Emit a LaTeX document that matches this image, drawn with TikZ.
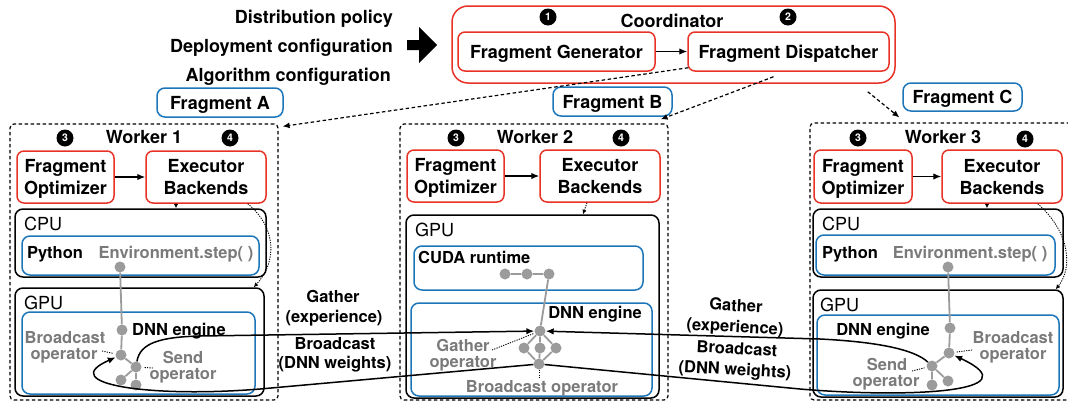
\documentclass[tikz,border=0pt]{standalone}
\usepackage{fontspec}
\setmainfont{TeX Gyre Heros}
\usetikzlibrary{arrows.meta,calc}
\definecolor{myred}{RGB}{232,50,38}
\definecolor{myblue}{RGB}{28,118,185}
\definecolor{dotgray}{RGB}{155,155,155}
\definecolor{txtgray}{RGB}{122,122,122}
\newcommand{\fbig}{\fontsize{18}{22}\selectfont\bfseries}
\newcommand{\fsmall}{\fontsize{16.5}{18}\selectfont\bfseries}
\newcommand{\freg}{\fontsize{18}{22}\selectfont}
\newcommand{\bxn}[7]{\node[#1, minimum width={#5-#3}, minimum height={#6-#4}] (#2) at ({(#3+#5)/2},{(#4+#6)/2}) {#7};}
\begin{document}
\begin{tikzpicture}[x=1pt,y=-1pt,
  box/.style={draw, line width=1.5pt, rounded corners=7pt, inner sep=0pt, text depth=0pt},
  redbox/.style={box, draw=myred},
  bluebox/.style={box, draw=myblue, rounded corners=8pt},
  blackbox/.style={box, draw=black, rounded corners=8pt},
  wbox/.style={draw, line width=1.2pt, dash pattern=on 3.5pt off 2.5pt, rounded corners=4pt, inner sep=0pt},
  txt/.style={inner sep=0pt, text height=12.5pt, text depth=0pt},
  gtxt/.style={txt, font=\fsmall, text=txtgray},
  dotn/.style={circle, fill=dotgray, minimum size=11pt, inner sep=0pt},
  num/.style={circle, fill=black, text=white, minimum size=17pt, inner sep=0pt, font=\fontsize{10.5}{11}\selectfont\bfseries},
  conn/.style={line width=1.5pt, -{Latex[length=8pt,width=6.5pt]}},
  dashconn/.style={line width=1.2pt, dash pattern=on 3.5pt off 2.5pt, -{Latex[length=7pt,width=6pt]}},
  grayline/.style={dotgray, line width=1.8pt},
  dotline/.style={line width=0.9pt, dash pattern=on 1.2pt off 1.2pt},
  tinyarrow/.style={dotline, -{Latex[length=4.5pt,width=4.5pt]}}
]
\useasboundingbox (0,0) rectangle (1068,402);

% ---------- left inputs ----------
\node[txt, font=\fbig, anchor=east] (in1) at (393,17) {Distribution policy};
\node[txt, font=\fbig, anchor=east] (in2) at (393,46) {Deployment configuration};
\node[txt, font=\fbig, anchor=east] (in3) at (391,75) {Algorithm configuration};
\fill (407,40) -- (419,40) -- (419,27) -- (437,45) -- (419,63) -- (419,50) -- (407,50) -- cycle;

% ---------- coordinator ----------
\bxn{redbox, rounded corners=16pt}{coord}{452}{6}{895}{83}{}
\node[txt, font=\fbig] (coordt) at (672,21) {Coordinator};
\node[num] (n1) at (548,17) {1};
\node[num] (n2) at (788,17) {2};
\bxn{redbox, font=\fbig}{fg}{458}{32}{655}{71}{Fragment Generator}
\bxn{redbox, font=\fbig}{fd}{688}{32}{889}{71}{Fragment Dispatcher}
\draw[conn, line width=1.3pt] (fg) -- (fd);

% ---------- fragments ----------
\bxn{bluebox, font=\fbig}{fa}{157}{88}{283}{117}{Fragment A}
\bxn{bluebox, font=\fbig}{fb}{553}{87}{672}{116}{Fragment B}
\bxn{bluebox, font=\fbig}{fc}{903}{83}{1022}{111}{Fragment C}

% ---------- workers ----------
\bxn{wbox}{w1}{10}{124}{278}{400}{}
\bxn{wbox}{w2}{400}{124}{668}{400}{}
\bxn{wbox}{w3}{810}{123}{1074}{400}{}

% dispatch arrows
\draw[dashconn] ($(fd.south west)+(1,-4)$) -- ($(w1.north east)+(4,3)$);
\draw[dashconn] ($(fd.south)+(-15,5)$) -- ($(w2.north east)+(-8,-4)$);
\draw[dashconn] ($(coord.south east)+(-28,8)$) -- ($(w3.north west)+(90,-5)$);

% ===== Worker 1 =====
\node[txt, font=\fbig] (w1t) at (144,137) {Worker 1};
\node[num] (w1n3) at (65,138) {3};
\node[num] (w1n4) at (230,138) {4};
\bxn{redbox, font=\fbig, align=center}{fo1}{17}{151}{114}{203}{Fragment\\Optimizer}
\bxn{redbox, font=\fbig, align=center}{eb1}{146}{151}{266}{203}{Executor\\Backends}
\draw[conn, line width=1.3pt] (fo1) -- (eb1);
\bxn{blackbox}{cpu1}{15}{209}{266}{277}{}
\node[txt, font=\freg, anchor=west] (cpu1t) at (24,224) {CPU};
\bxn{bluebox}{py1}{22}{236}{259}{275}{}
\node[txt, font=\fsmall] (py1t) at (55,252) {Python};
\node[gtxt] (env1t) at (176,252) {Environment.step( )};
\bxn{blackbox}{gpu1}{15}{288}{264}{396}{}
\node[txt, font=\freg, anchor=west] (gpu1t) at (24,303) {GPU};
\bxn{bluebox}{dnn1}{22}{312}{255}{394}{}
\node[txt, font=\fsmall] (dnn1t) at (179,329) {DNN engine};
\node[gtxt] (bo1a) at (65,337) {Broadcast};
\node[gtxt] (bo1b) at (64,353) {operator};
\node[gtxt] (so1a) at (183,357) {Send};
\node[gtxt] (so1b) at (183,373) {operator};
\node[dotn] (e1) at (120,267) {};
\node[dotn] (d1) at (122,330) {};
\node[dotn] (b1) at (121,355) {};
\node[dotn] (s1) at (136,367) {};
\node[dotn] (x1) at (121,380) {};
\node[dotn] (y1) at (136,385) {};
\draw[grayline] (e1) -- (d1) -- (b1) -- (s1) -- (x1);
\draw[grayline] (s1) -- (y1);
\coordinate (bo1r) at (102,351);
\draw[dotline, shorten >=2pt] (bo1r) -- (b1);
\coordinate (so1l) at (153,368);
\draw[dotline, shorten >=2pt] (so1l) -- (s1);
\coordinate (ex1) at ($(eb1.south)+(-30,0)$);
\draw[tinyarrow] (ex1) -- (ex1 |- cpu1.north);
\draw[tinyarrow] ($(eb1.south east)+(-19,0)$) .. controls (277,228) and (277,262) .. ($(gpu1.north east)+(-11,0)$);

% ===== Worker 2 =====
\node[txt, font=\fbig] (w2t) at (535,137) {Worker 2};
\node[num] (w2n3) at (456,138) {3};
\node[num] (w2n4) at (621,138) {4};
\bxn{redbox, font=\fbig, align=center}{fo2}{407}{150}{504}{202}{Fragment\\Optimizer}
\bxn{redbox, font=\fbig, align=center}{eb2}{540}{150}{660}{202}{Executor\\Backends}
\draw[conn, line width=1.3pt] (fo2) -- (eb2);
\bxn{blackbox}{gpu2}{406}{215}{659}{398}{}
\node[txt, font=\freg, anchor=west] (gpu2t) at (415,230) {GPU};
\bxn{bluebox}{cuda2}{414}{246}{643}{290}{}
\node[txt, font=\fsmall, anchor=west] (cuda2t) at (418,257) {CUDA runtime};
\bxn{bluebox}{dnn2}{411}{303}{652}{396}{}
\node[txt, font=\fsmall] (dnn2t) at (595,312) {DNN engine};
\node[gtxt] (ga2a) at (463,345) {Gather};
\node[gtxt] (ga2b) at (463,361) {operator};
\node[gtxt] (bo2) at (542,386) {Broadcast operator};
\node[dotn] (c1) at (505,274) {};
\node[dotn] (c2) at (527,274) {};
\node[dotn] (c3) at (549,274) {};
\node[dotn] (g2) at (540,331) {};
\node[dotn] (m1) at (524,348) {};
\node[dotn] (m2) at (540,348) {};
\node[dotn] (m3) at (556,348) {};
\node[dotn] (b2) at (539,364) {};
\draw[grayline] (c1) -- (c2) -- (c3) -- (g2);
\draw[grayline] (g2) -- (m1) -- (b2);
\draw[grayline] (g2) -- (m2) -- (b2);
\draw[grayline] (g2) -- (m3) -- (b2);
\coordinate (ga2r) at (492,350);
\draw[dotline, shorten >=1pt] (ga2r) -- (g2);
\coordinate (bo2t) at (539,378);
\draw[dotline] (b2) -- (bo2t);
\coordinate (ex2) at ($(eb2.south)+(-13,0)$);
\draw[tinyarrow] (ex2) -- ($(ex2 |- gpu2.north)+(-4,0)$);

% ===== Worker 3 =====
\node[txt, font=\fbig] (w3t) at (943,137) {Worker 3};
\node[num] (w3n3) at (858,138) {3};
\node[num] (w3n4) at (1025,139) {4};
\bxn{redbox, font=\fbig, align=center}{fo3}{814}{150}{912}{203}{Fragment\\Optimizer}
\bxn{redbox, font=\fbig, align=center}{eb3}{942}{150}{1062}{203}{Executor\\Backends}
\draw[conn, line width=1.3pt] (fo3) -- (eb3);
\bxn{blackbox}{cpu3}{813}{209}{1063}{277}{}
\node[txt, font=\freg, anchor=west] (cpu3t) at (822,224) {CPU};
\bxn{bluebox}{py3}{816}{235}{1055}{275}{}
\node[txt, font=\fsmall] (py3t) at (850,252) {Python};
\node[gtxt] (env3t) at (970,252) {Environment.step( )};
\bxn{blackbox}{gpu3}{813}{290}{1063}{397}{}
\node[txt, font=\freg, anchor=west] (gpu3t) at (820,305) {GPU};
\bxn{bluebox}{dnn3}{817}{315}{1059}{395}{}
\node[txt, font=\fsmall] (dnn3t) at (883,329) {DNN engine};
\node[gtxt] (bo3a) at (1013,337) {Broadcast};
\node[gtxt] (bo3b) at (1013,353) {operator};
\node[gtxt] (so3a) at (887,364) {Send};
\node[gtxt] (so3b) at (886,380) {operator};
\node[dotn] (e3) at (948,267) {};
\node[dotn] (d3) at (950,328) {};
\node[dotn] (b3) at (949,353) {};
\node[dotn] (s3) at (932,366) {};
\node[dotn] (x3) at (932,385) {};
\node[dotn] (y3) at (948,381) {};
\draw[grayline] (e3) -- (d3) -- (b3) -- (s3) -- (x3);
\draw[grayline] (s3) -- (y3);
\coordinate (bo3l) at (972,350);
\draw[dotline, shorten >=2pt] (bo3l) -- (b3);
\coordinate (so3r) at (912,371);
\draw[dotline, shorten >=2pt] (so3r) -- (s3);
\coordinate (ex3) at ($(eb3.south)+(-15,0)$);
\draw[tinyarrow] (ex3) -- (ex3 |- cpu3.north);
\draw[tinyarrow] ($(eb3.south east)+(-25,0)$) .. controls (1070,232) and (1073,268) .. ($(gpu3.north east)+(-8,0)$);

% ===== communication =====
\draw[conn] (s1) .. controls (140,343) and (160,337) .. (200,336) -- (g2);
\draw[conn] (s3) .. controls (915,350) and (880,342) .. (820,339) -- (g2);
\draw[conn] (b2) -- (260,389) .. controls (150,398) and (55,384) .. (b1);
\draw[conn] (b2) -- (800,389) .. controls (905,398) and (1035,393) .. (b3);

\node[txt, font=\fsmall] (lg1) at (333,296) {Gather};
\node[txt, font=\fsmall] (le1) at (334,316) {(experience)};
\node[txt, font=\fsmall] (lb1) at (335,343) {Broadcast};
\node[txt, font=\fsmall] (lw1) at (335,362) {(DNN weights)};
\node[txt, font=\fsmall, rotate=-3] (lg3) at (736,305) {Gather};
\node[txt, font=\fsmall, rotate=-3] (le3) at (735,326) {(experience)};
\node[txt, font=\fsmall, rotate=-3] (lb3) at (737,348) {Broadcast};
\node[txt, font=\fsmall, rotate=-3] (lw3) at (735,369) {(DNN weights)};
\end{tikzpicture}
\end{document}
